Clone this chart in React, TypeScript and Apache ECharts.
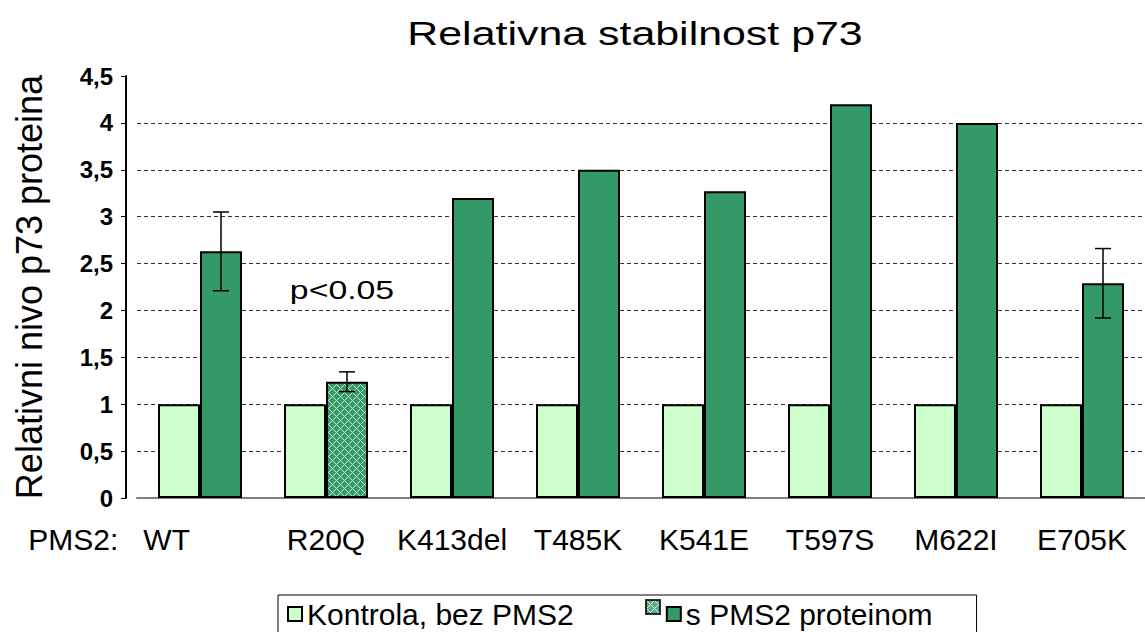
import React, { useEffect, useRef } from "react";
import * as echarts from "echarts";

const titleText = "Relativna stabilnost p73";
const yAxisName = "Relativni nivo p73 proteina";
const categories = ["WT", "R20Q", "K413del", "T485K", "K541E", "T597S", "M622I", "E705K"];
const firstPrefix = "PMS2:   ";
const controlName = "Kontrola, bez PMS2";
const pmsName = "s PMS2 proteinom";
const hatchName = "s PMS2 (R20Q)";
const controlValues = [1, 1, 1, 1, 1, 1, 1, 1];
const pmsValues = [2.63, 1.24, 3.2, 3.5, 3.27, 4.2, 4.0, 2.29];
const pmsErrors: (number | null)[] = [0.42, 0.105, null, null, null, null, null, 0.37];
const hatchedIndex = 1;
const annotation = "p<0.05";

const FONT = "'Liberation Sans', Arial, sans-serif";

function makeHatch() {
  const c = document.createElement("canvas");
  c.width = 8;
  c.height = 8;
  const ctx = c.getContext("2d")!;
  ctx.fillStyle = "#339966";
  ctx.fillRect(0, 0, 8, 8);
  ctx.fillStyle = "#c4e8cf";
  for (let x = 0; x < 8; x++) {
    for (let y = 0; y < 8; y++) {
      if ((x + y) % 8 === 0 || (x - y + 8) % 8 === 0) ctx.fillRect(x, y, 1, 1);
    }
  }
  return { image: c, repeat: "repeat" as const };
}

export default function App() {
  const ref = useRef<HTMLDivElement>(null);
  useEffect(() => {
    if (!ref.current) return;
    const chart = echarts.init(ref.current, undefined, { renderer: "svg" });
    const hatch = makeHatch();
    const errData = categories
      .map((_, i) => (pmsErrors[i] != null ? [i, pmsValues[i], pmsErrors[i] as number] : null))
      .filter((d) => d !== null);

    const option: any = {
      animation: false,
      backgroundColor: "#ffffff",
      textStyle: { fontFamily: FONT, color: "#000" },
      grid: { left: 137, right: 0, top: 76, bottom: 134, containLabel: false },
      graphic: [
        {
          type: "text",
          x: 635,
          y: 33,
          scaleX: 1.3,
          style: {
            text: titleText,
            font: `33px ${FONT}`,
            fill: "#000",
            textAlign: "center",
            textVerticalAlign: "middle",
          },
        },
        {
          type: "text",
          x: 342,
          y: 290,
          scaleX: 1.3,
          style: {
            text: annotation,
            font: `26px ${FONT}`,
            fill: "#000",
            textAlign: "center",
            textVerticalAlign: "middle",
          },
        },
      ],
      legend: [
        {
          data: [controlName, pmsName],
          left: 278,
          top: 595,
          orient: "horizontal",
          itemWidth: 14,
          itemHeight: 14,
          itemGap: 92,
          padding: [4, 44, 10, 9],
          borderColor: "#000",
          borderWidth: 1,
          icon: "rect",
          selectedMode: false,
          textStyle: { fontSize: 30, color: "#000", fontFamily: FONT },
        },
        {
          data: [hatchName],
          left: 645,
          top: 595,
          itemWidth: 14,
          itemHeight: 14,
          padding: [4, 0, 10, 0],
          icon: "rect",
          selectedMode: false,
          formatter: () => "",
          textStyle: { fontSize: 30, color: "#000", fontFamily: FONT },
        },
      ],
      xAxis: {
        type: "category",
        data: categories.map((c, i) =>
          i === 0
            ? { value: c, textStyle: { align: "right", padding: [0, 10, 0, 0] } }
            : c
        ),
        axisLine: { show: true, lineStyle: { color: "#808080", width: 2 } },
        axisTick: { show: false },
        axisLabel: {
          interval: 0,
          fontSize: 30,
          color: "#000",
          fontFamily: FONT,
          margin: 26,
          formatter: (v: string, i: number) => (i === 0 ? firstPrefix + v : v),
        },
        splitLine: { show: false },
      },
      yAxis: {
        type: "value",
        min: 0,
        max: 4.5,
        interval: 0.5,
        offset: 11,
        name: yAxisName,
        nameLocation: "middle",
        nameRotate: 90,
        nameGap: 79,
        nameTextStyle: { fontSize: 36, color: "#000", fontFamily: FONT },
        axisLine: { show: true, lineStyle: { color: "#000", width: 2 } },
        axisTick: { show: true, inside: false, length: 5, lineStyle: { color: "#000", width: 1 } },
        axisLabel: {
          fontSize: 24,
          fontWeight: "bold",
          color: "#000",
          fontFamily: FONT,
          margin: 13,
          formatter: (v: number) => String(v).replace(".", ","),
        },
        splitLine: {
          show: true,
          showMinLine: false,
          showMaxLine: false,
          lineStyle: { color: "#333", width: 1, type: [4, 3] },
        },
      },
      series: [
        {
          name: controlName,
          type: "bar",
          data: controlValues,
          barGap: "0%",
          barCategoryGap: "33.33%",
          itemStyle: { color: "#ccffcc", borderColor: "#000", borderWidth: 2 },
        },
        {
          name: pmsName,
          type: "bar",
          data: pmsValues.map((v, i) =>
            i === hatchedIndex ? { value: v, itemStyle: { color: hatch } } : v
          ),
          barGap: "0%",
          barCategoryGap: "33.33%",
          itemStyle: { color: "#339966", borderColor: "#000", borderWidth: 2 },
        },
        {
          name: hatchName,
          type: "scatter",
          data: [],
          itemStyle: { color: hatch, borderColor: "#000", borderWidth: 1 },
        },
        {
          name: "errors",
          type: "custom",
          z: 10,
          data: errData,
          renderItem: (params: any, api: any) => {
            const i = api.value(0);
            const v = api.value(1);
            const e = api.value(2);
            const band = api.size([1, 0])[0];
            const hi = api.coord([i, v + e]);
            const lo = api.coord([i, v - e]);
            const x = hi[0] + band / 6;
            const cap = 8;
            const st = { stroke: "#000", lineWidth: 1.5 };
            return {
              type: "group",
              children: [
                { type: "line", shape: { x1: x, y1: hi[1], x2: x, y2: lo[1] }, style: st },
                { type: "line", shape: { x1: x - cap, y1: hi[1], x2: x + cap, y2: hi[1] }, style: st },
                { type: "line", shape: { x1: x - cap, y1: lo[1], x2: x + cap, y2: lo[1] }, style: st },
              ],
            };
          },
        },
      ],
    };
    chart.setOption(option);
    return () => chart.dispose();
  }, []);
  return (
    <div
      ref={ref}
      style={{ position: "fixed", left: 0, top: 0, width: 1145, height: 632, background: "#fff" }}
    />
  );
}
